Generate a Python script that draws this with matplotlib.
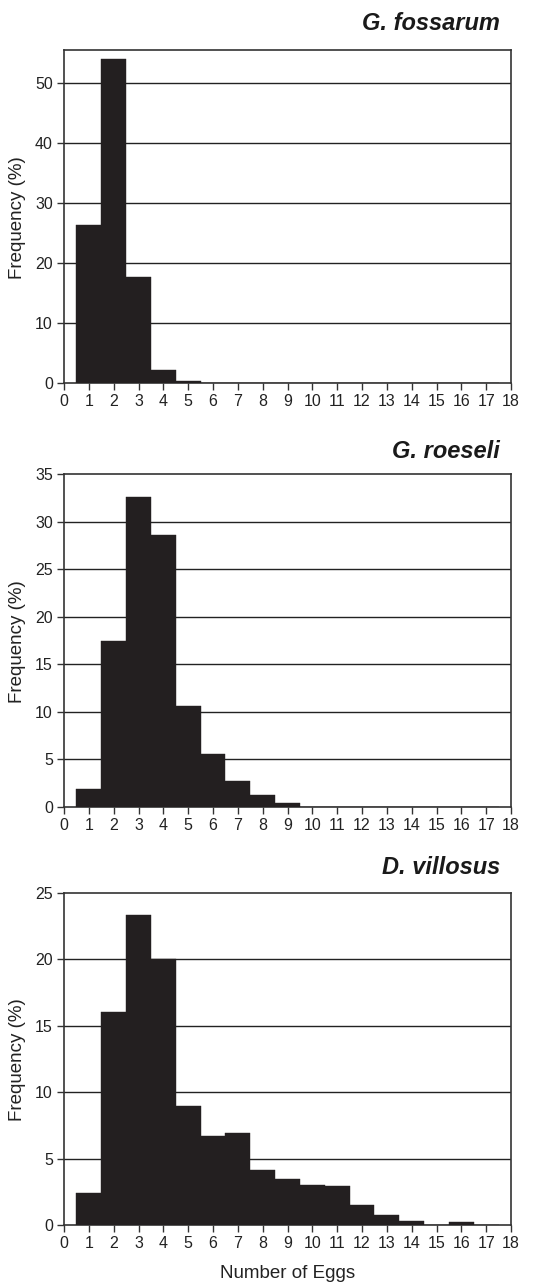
import matplotlib
matplotlib.use("Agg")
import matplotlib.pyplot as plt
import numpy as np

plt.rcParams['font.family'] = ['Liberation Sans', 'DejaVu Sans']

# Number of eggs per brood (bin centres) and frequency (%) for each species
eggs = list(range(1, 18))

g_fossarum = [26.3, 54.0, 17.7, 2.2, 0.3, 0, 0, 0, 0, 0, 0, 0, 0, 0, 0, 0, 0]
g_roeseli = [1.9, 17.5, 32.6, 28.6, 10.6, 5.6, 2.7, 1.3, 0.4, 0, 0, 0, 0, 0, 0, 0, 0]
d_villosus = [2.4, 16.05, 23.35, 20.05, 8.95, 6.7, 6.95, 4.15, 3.5, 3.0, 2.9, 1.5, 0.75, 0.3, 0.03, 0.25, 0]

species = ["G. fossarum", "G. roeseli", "D. villosus"]
series = [g_fossarum, g_roeseli, d_villosus]
y_max = [55.5, 35, 25]
y_step = [10, 5, 5]

xticks = list(range(0, 19))

W, H = 539, 1284
fig = plt.figure(figsize=(W / 100, H / 100), dpi=100)

# axes boxes in pixel coordinates: (left, top, right, bottom)
boxes = [(64, 50, 511, 383), (64, 474, 511, 807), (64, 893, 511, 1225)]
title_y = [23, 452, 867]

bar_color = "#231f20"
line_color = "#222222"
text_color = "#222222"

for i, (name, vals) in enumerate(zip(species, series)):
    l, t, r, b = boxes[i]
    ax = fig.add_axes([l / W, 1 - b / H, (r - l) / W, (b - t) / H])
    ax.bar(eggs, vals, width=1.0, color=bar_color, edgecolor=bar_color,
           linewidth=0.3, zorder=3)
    ax.set_xlim(0, 18)
    ax.set_ylim(0, y_max[i])
    yt = np.arange(0, y_max[i] + 0.01, y_step[i])
    ax.set_yticks(yt)
    ax.set_yticklabels([f"{int(v)}" for v in yt])
    ax.set_xticks(xticks)
    ax.set_xticklabels([str(v) for v in xticks])
    for v in yt[1:]:
        if v < y_max[i] - 0.01:
            ax.axhline(v, color=line_color, lw=1.0, zorder=1)
    for s in ax.spines.values():
        s.set_color("#333333")
        s.set_linewidth(1.2)
    ax.tick_params(axis="both", direction="out", length=5, width=1.0,
                   color="#333333", labelsize=11.5, labelcolor=text_color, pad=3)
    fig.text(18 / W, 1 - ((t + b) / 2 + 1) / H, "Frequency (%)", rotation=90,
             ha="center", va="center", fontsize=13.5, color=text_color)
    fig.text(500 / W, 1 - title_y[i] / H, name, ha="right", va="center",
             fontsize=17, fontweight="bold", fontstyle="italic", color="#1a1a1a")

fig.text(((64 + 511) / 2) / W, 1 - 1273 / H, "Number of Eggs", ha="center",
         va="center", fontsize=13.5, color=text_color)

fig.savefig("out.png", dpi=100, facecolor="white")
